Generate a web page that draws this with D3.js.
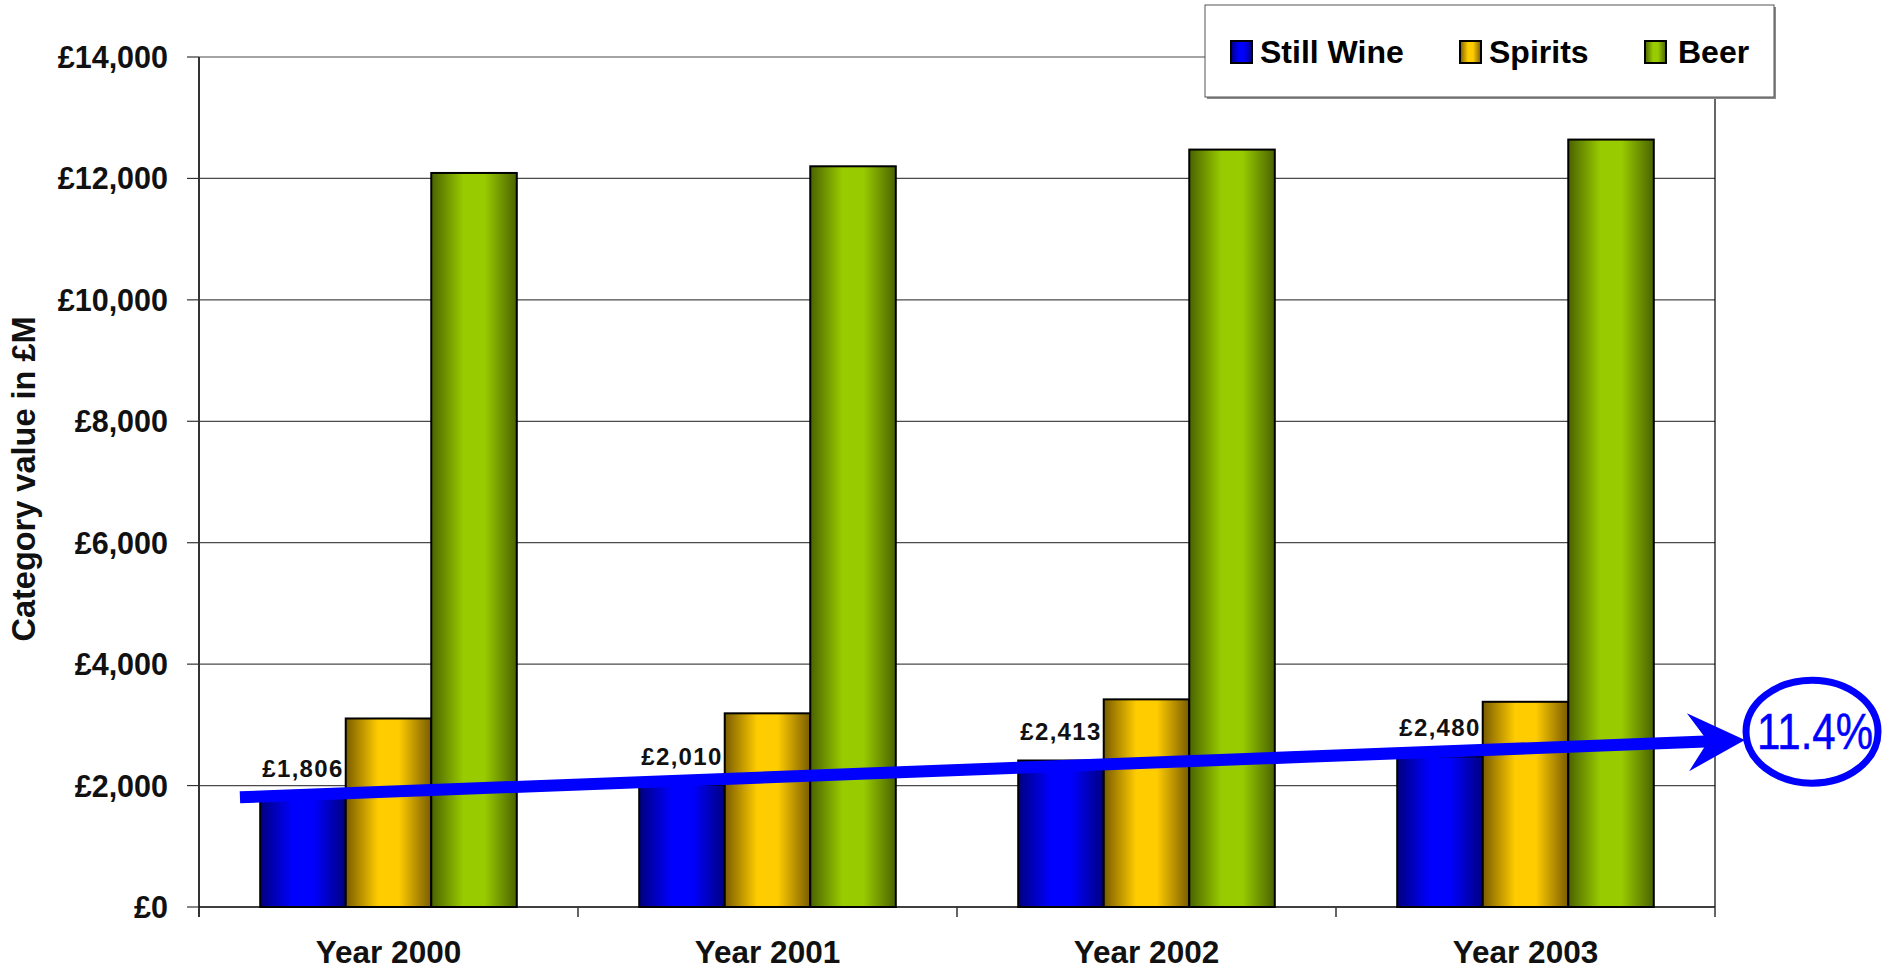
<!DOCTYPE html>
<html>
<head>
<meta charset="utf-8">
<script src="https://cdn.jsdelivr.net/npm/d3@7"></script>
<style>
  html, body { margin: 0; padding: 0; background: #fff; }
  svg { display: block; font-family: "Liberation Sans", Arial, sans-serif; }
</style>
</head>
<body>
<svg id="chart" width="1884" height="969"></svg>
<script>
// ---- Data ----------------------------------------------------------
const categories = ["Year 2000", "Year 2001", "Year 2002", "Year 2003"];
const seriesNames = ["Still Wine", "Spirits", "Beer"];
const stillWine = [1806, 2010, 2413, 2480];
const spirits   = [3105, 3190, 3420, 3380];
const beer      = [12090, 12200, 12475, 12640];
const yTicks = [0, 2000, 4000, 6000, 8000, 10000, 12000, 14000];
const growthLabel = "11.4%";
// trend arrow, in category-position / value units
const trendFrom = { pos: 0.108, value: stillWine[0] };
const trendTo   = { pos: 4.079, value: 2750 };
const growthBadge = { pos: 4.256, value: 2887 };

// ---- Styles ----------------------------------------------------------
const palette = {
  "Still Wine": { dark: "#000080", bright: "#0000FF" },
  "Spirits":    { dark: "#7A5C00", bright: "#FFCC00" },
  "Beer":       { dark: "#4A6300", bright: "#99CC00" }
};
const seriesValues = { "Still Wine": stillWine, "Spirits": spirits, "Beer": beer };

const svg = d3.select("#chart");
const plot = { left: 199, right: 1715, top: 57, bottom: 907 };

// gradients: dark edges, bright centre
const defs = svg.append("defs");
seriesNames.forEach((name, i) => {
  const g = defs.append("linearGradient")
    .attr("id", "grad" + i).attr("x1", "0").attr("x2", "1").attr("y1", "0").attr("y2", "0");
  [[0, "dark"], [0.38, "bright"], [0.62, "bright"], [1, "dark"]].forEach(([o, k]) => {
    g.append("stop").attr("offset", o).attr("stop-color", palette[name][k]);
  });
});

// ---- Scales ----------------------------------------------------------
const x0 = d3.scaleBand().domain(categories)
  .range([plot.left, plot.right]).paddingInner(0.323).paddingOuter(0.1615);
const x1 = d3.scaleBand().domain(seriesNames).range([0, x0.bandwidth()]);
const xPos = d3.scaleLinear().domain([0, categories.length]).range([plot.left, plot.right]);
const y = d3.scaleLinear().domain([0, 14000]).range([plot.bottom, plot.top]);

// ---- Grid & frame ----------------------------------------------------
svg.append("g").selectAll("line").data(yTicks.filter(v => v > 0)).join("line")
  .attr("x1", plot.left).attr("x2", plot.right)
  .attr("y1", d => y(d)).attr("y2", d => y(d))
  .attr("stroke", "#4a4a4a").attr("stroke-width", 1.2);

svg.append("line")
  .attr("x1", plot.right).attr("x2", plot.right)
  .attr("y1", plot.top).attr("y2", plot.bottom)
  .attr("stroke", "#000").attr("stroke-width", 1.2);

// ---- Bars ------------------------------------------------------------
const groups = svg.append("g").selectAll("g").data(categories).join("g")
  .attr("transform", d => `translate(${x0(d)},0)`);

groups.selectAll("rect")
  .data((c, ci) => seriesNames.map((s, si) => ({ s, si, v: seriesValues[s][ci] })))
  .join("rect")
  .attr("x", d => x1(d.s))
  .attr("width", x1.bandwidth())
  .attr("y", d => y(d.v))
  .attr("height", d => y(0) - y(d.v))
  .attr("fill", d => `url(#grad${d.si})`)
  .attr("stroke", "#000").attr("stroke-width", 2);

// value labels on Still Wine
svg.append("g").selectAll("text").data(categories).join("text")
  .attr("x", (c) => x0(c) + x1("Still Wine") + x1.bandwidth() / 2)
  .attr("y", (c, i) => y(stillWine[i]) - 20)
  .attr("text-anchor", "middle")
  .attr("font-size", 24).attr("font-weight", "bold").attr("letter-spacing", 1.3)
  .attr("fill", "#111")
  .text((c, i) => "£" + d3.format(",")(stillWine[i]));

// ---- Axes ------------------------------------------------------------
const yAxis = svg.append("g");
yAxis.append("line")
  .attr("x1", plot.left).attr("x2", plot.left)
  .attr("y1", plot.top).attr("y2", plot.bottom + 10)
  .attr("stroke", "#333").attr("stroke-width", 2);
yAxis.selectAll(".tick").data(yTicks).join("line")
  .attr("x1", plot.left - 12).attr("x2", plot.left)
  .attr("y1", d => y(d)).attr("y2", d => y(d))
  .attr("stroke", "#333").attr("stroke-width", 1.2);
yAxis.selectAll("text").data(yTicks).join("text")
  .attr("x", 168).attr("y", d => y(d) + 11)
  .attr("text-anchor", "end")
  .attr("font-size", 30.5).attr("font-weight", "bold").attr("fill", "#111")
  .text(d => "£" + d3.format(",")(d));

const xAxis = svg.append("g");
xAxis.append("line")
  .attr("x1", plot.left).attr("x2", plot.right)
  .attr("y1", plot.bottom).attr("y2", plot.bottom)
  .attr("stroke", "#000").attr("stroke-width", 1.5);
const boundaries = d3.range(categories.length + 1);
xAxis.selectAll(".tk").data(boundaries).join("line")
  .attr("x1", d => xPos(d)).attr("x2", d => xPos(d))
  .attr("y1", plot.bottom).attr("y2", plot.bottom + 10)
  .attr("stroke", "#333").attr("stroke-width", 1.5);
xAxis.selectAll("text").data(categories).join("text")
  .attr("x", d => x0(d) + x0.bandwidth() / 2)
  .attr("y", 963)
  .attr("text-anchor", "middle")
  .attr("font-size", 31.5).attr("font-weight", "bold").attr("fill", "#111")
  .text(d => d);

svg.append("text")
  .attr("transform", `translate(35,479) rotate(-90)`)
  .attr("text-anchor", "middle")
  .attr("font-size", 32.5).attr("font-weight", "bold").attr("fill", "#111")
  .text("Category value in £M");

// ---- Trend arrow -----------------------------------------------------
const p0 = [xPos(trendFrom.pos), y(trendFrom.value)];
const tip = [xPos(trendTo.pos), y(trendTo.value)];
const dx = tip[0] - p0[0], dy = tip[1] - p0[1];
const len = Math.hypot(dx, dy);
const ux = dx / len, uy = dy / len, nx = -uy, ny = ux;
const at = (back, side) => [tip[0] - ux * back + nx * side, tip[1] - uy * back + ny * side];
const notch = at(37, 0);
svg.append("line")
  .attr("x1", p0[0]).attr("y1", p0[1])
  .attr("x2", notch[0] + ux * 4).attr("y2", notch[1] + uy * 4)
  .attr("stroke", "#0000FF").attr("stroke-width", 12);
svg.append("path")
  .attr("d", d3.line()([tip, at(57, -29), notch, at(57, 29)]) + "Z")
  .attr("fill", "#0000FF");

// growth badge
const bx = xPos(growthBadge.pos), by = y(growthBadge.value);
svg.append("ellipse")
  .attr("cx", bx).attr("cy", by).attr("rx", 66).attr("ry", 51.5)
  .attr("fill", "none").attr("stroke", "#0000FF").attr("stroke-width", 7);
svg.append("g")
  .attr("transform", `translate(${bx + 3},${by + 17}) scale(1,1.17)`)
  .append("text")
  .attr("text-anchor", "middle")
  .attr("font-size", 42).attr("fill", "#0000FF")
  .attr("stroke", "#0000FF").attr("stroke-width", 0.4)
  .text(growthLabel);

// ---- Legend ----------------------------------------------------------
const lg = svg.append("g");
lg.append("rect").attr("x", 1207).attr("y", 7).attr("width", 569).attr("height", 92).attr("fill", "#8a8a8a");
lg.append("rect").attr("x", 1205).attr("y", 5).attr("width", 569).attr("height", 92)
  .attr("fill", "#fff").attr("stroke", "#555").attr("stroke-width", 1);
const legendX = { "Still Wine": 1231, "Spirits": 1460, "Beer": 1645 };
const items = lg.selectAll("g.item").data(seriesNames).join("g")
  .attr("transform", d => `translate(${legendX[d]},41)`);
items.append("rect")
  .attr("width", 21).attr("height", 22)
  .attr("fill", (d, i) => `url(#grad${i})`)
  .attr("stroke", "#000").attr("stroke-width", 2);
items.append("text")
  .attr("x", d => d === "Beer" ? 33 : 29).attr("y", 22)
  .attr("font-size", 32).attr("font-weight", "bold").attr("fill", "#000")
  .text(d => d);
</script>
</body>
</html>
